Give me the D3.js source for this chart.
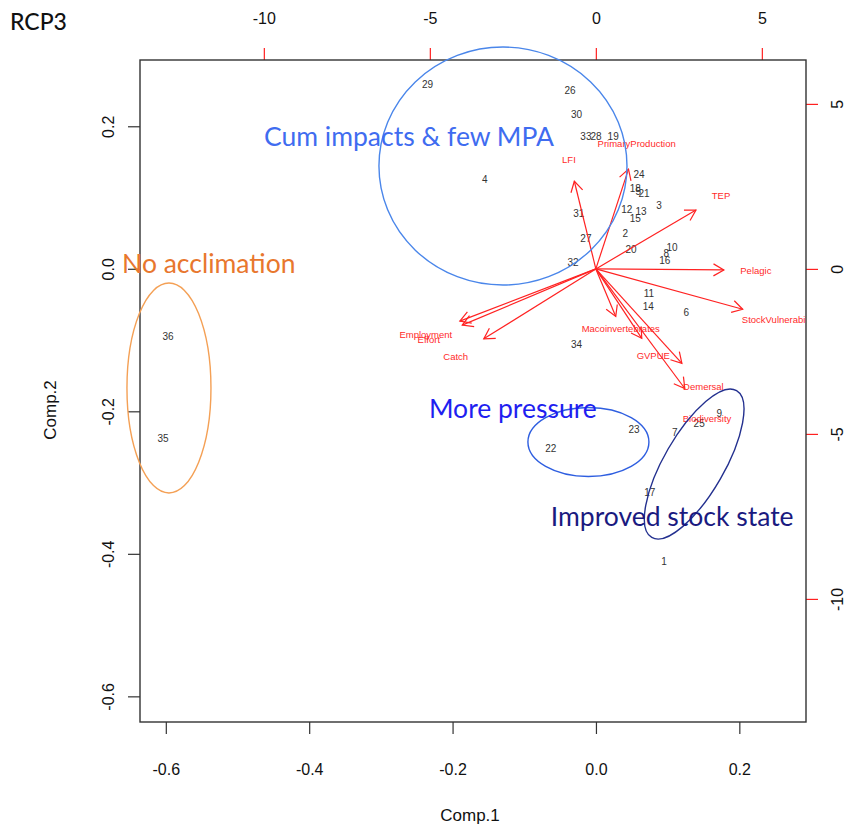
<!DOCTYPE html>
<html>
<head>
<meta charset="utf-8">
<script src="https://cdn.jsdelivr.net/npm/d3@7"></script>
<style>
  html, body { margin: 0; padding: 0; background: #fff; }
  svg { display: block; }
</style>
</head>
<body>
<svg id="chart" width="856" height="830"></svg>
<script>
// ---------- data ----------
const pointLabels = ["1","2","3","4","5","6","7","8","9","10","11","12","13","14","15","16","17","18",
  "19","20","21","22","23","24","25","26","27","28","29","30","31","32","33","34","35","36"];
const comp1 = [0.095, 0.041, 0.088, -0.155, 0.059, 0.126, 0.110, 0.098, 0.172, 0.106, 0.074, 0.043,
  0.063, 0.073, 0.055, 0.096, 0.075, 0.055, 0.024, 0.049, 0.067, -0.063, 0.053, 0.060, 0.144,
  -0.036, -0.014, 0.000, -0.235, -0.027, -0.024, -0.032, -0.014, -0.027, -0.604, -0.597];
const comp2 = [-0.411, 0.049, 0.089, 0.125, 0.109, -0.061, -0.230, 0.022, -0.203, 0.030, -0.034, 0.083,
  0.081, -0.053, 0.070, 0.012, -0.314, 0.113, 0.185, 0.027, 0.106, -0.252, -0.226, 0.133, -0.217,
  0.250, 0.043, 0.186, 0.258, 0.216, 0.078, 0.009, 0.186, -0.106, -0.238, -0.095];

const varLabels = ["LFI","PrimaryProduction","TEP","Pelagic","StockVulnerability","Macoinvertebrates",
  "GVPUE","Demersal","Biodiversity","Employment","Effort","Catch"];
const load1 = [-0.81, 1.23, 3.77, 4.82, 5.53, 0.75, 1.73, 3.24, 3.35, -5.12, -5.03, -4.22];
const load2 = [3.32, 3.78, 2.23, -0.04, -1.53, -1.80, -2.63, -3.58, -4.53, -1.98, -2.13, -2.65];

const bottomTicks = [-0.6, -0.4, -0.2, 0.0, 0.2];
const leftTicks = [-0.6, -0.4, -0.2, 0.0, 0.2];
const topTicks = [-10, -5, 0, 5];
const rightTicks = [-10, -5, 0, 5];

const groupNames = ["Cum impacts & few MPA", "No acclimation", "More pressure", "Improved stock state"];
const groupCx = [-0.1297, -0.5956, -0.0105, 0.137];
const groupCy = [0.1442, -0.1673, -0.243, -0.274];
const groupRx = [0.173, 0.0586, 0.0844, 0.042];
const groupRy = [0.167, 0.1473, 0.0484, 0.119];
const groupRot = [0, 0, 0, 30];
const groupStroke = ["#4a86ea", "#f4a055", "#2e5ee0", "#23308f"];
const groupTextColor = ["#3f6cf0", "#e8772e", "#1f1ff0", "#1a1a80"];
const groupTextX = [-0.463, -0.661, -0.233, -0.063];
const groupTextY = [0.172, -0.006, -0.21, -0.361];

// ---------- layout ----------
const svg = d3.select("#chart");
const box = {l: 140, r: 806, t: 60, b: 722};
const lim = [-0.636, 0.293];
const lim2 = [-13.73, 6.33];
const x = d3.scaleLinear().domain(lim).range([box.l, box.r]);
const y = d3.scaleLinear().domain(lim).range([box.b, box.t]);
const x2 = d3.scaleLinear().domain(lim2).range([box.l, box.r]);
const y2 = d3.scaleLinear().domain(lim2).range([box.b, box.t]);

const axisFont = "'Liberation Sans', Arial, Helvetica, sans-serif";
const annFont = "Lato, 'Open Sans', sans-serif";
const hy = f => (d => f(d).replace("\u2212", "-"));
const f1 = hy(d3.format(".1f"));
const f0 = hy(d3.format("d"));

svg.append("defs").append("clipPath").attr("id", "plotclip")
  .append("rect").attr("x", box.l).attr("y", box.t)
  .attr("width", box.r - box.l).attr("height", box.b - box.t);

// axes
const gB = svg.append("g").attr("transform", `translate(0,${box.b})`)
  .call(d3.axisBottom(x).tickValues(bottomTicks).tickFormat(f1).tickSize(12).tickPadding(30));
const gL = svg.append("g").attr("transform", `translate(${box.l},0)`)
  .call(d3.axisLeft(y).tickValues(leftTicks).tickFormat(f1).tickSize(12).tickPadding(20));
const gT = svg.append("g").attr("transform", `translate(0,${box.t})`)
  .call(d3.axisTop(x2).tickValues(topTicks).tickFormat(f0).tickSize(12).tickPadding(24));
const gR = svg.append("g").attr("transform", `translate(${box.r},0)`)
  .call(d3.axisRight(y2).tickValues(rightTicks).tickFormat(f0).tickSize(12).tickPadding(20));

[gB, gL, gT, gR].forEach(g => {
  g.select(".domain").remove();
  g.selectAll("text").attr("font-family", axisFont).attr("font-size", 16).attr("fill", "#111");
});
gB.selectAll(".tick line").attr("stroke", "#333").attr("stroke-width", 1.2);
gL.selectAll(".tick line").attr("stroke", "#333").attr("stroke-width", 1.2);
gT.selectAll(".tick line").attr("stroke", "#ff2020").attr("stroke-width", 1.2);
gR.selectAll(".tick line").attr("stroke", "#ff2020").attr("stroke-width", 1.2);
gL.selectAll(".tick text").attr("transform", "rotate(-90,-32,0)")
  .attr("x", -32).attr("dy", "0.35em").attr("text-anchor", "middle");
gR.selectAll(".tick text").attr("transform", "rotate(-90,31,0)")
  .attr("x", 31).attr("dy", "0.35em").attr("text-anchor", "middle");

// frame
svg.append("rect").attr("x", box.l).attr("y", box.t)
  .attr("width", box.r - box.l).attr("height", box.b - box.t)
  .attr("fill", "none").attr("stroke", "#333").attr("stroke-width", 1.4);

// axis titles
svg.append("text").attr("x", 470).attr("y", 821).attr("text-anchor", "middle")
  .attr("font-family", axisFont).attr("font-size", 17).attr("fill", "#111").text("Comp.1");
svg.append("text").attr("transform", "translate(56,410) rotate(-90)").attr("text-anchor", "middle")
  .attr("font-family", axisFont).attr("font-size", 17).attr("fill", "#111").text("Comp.2");
svg.append("text").attr("x", 10).attr("y", 30)
  .attr("font-family", annFont).attr("font-size", 23).attr("font-weight", 500).attr("fill", "#111").text("RCP3");

// ---------- plot contents (clipped) ----------
const plot = svg.append("g").attr("clip-path", "url(#plotclip)");

const pts = pointLabels.map((lab, i) => ({lab, a: comp1[i], b: comp2[i]}));
plot.selectAll("text.pt").data(pts).enter().append("text").attr("class", "pt")
  .attr("x", d => x(d.a)).attr("y", d => y(d.b)).attr("dy", "0.35em")
  .attr("text-anchor", "middle").attr("font-family", axisFont).attr("font-size", 10)
  .attr("fill", "#333").text(d => d.lab);

const vars = varLabels.map((lab, i) => ({lab, u: load1[i], w: load2[i]}));
const ox = x2(0), oy = y2(0);
const arrowG = plot.append("g").attr("stroke", "#ff2222").attr("stroke-width", 1.2).attr("fill", "none");
vars.forEach(v => {
  const tx = x2(v.u * 0.8), ty = y2(v.w * 0.8);
  arrowG.append("line").attr("x1", ox).attr("y1", oy).attr("x2", tx).attr("y2", ty);
  const ang = Math.atan2(ty - oy, tx - ox);
  const len = 12, spread = Math.PI / 6;
  const p1 = [tx - len * Math.cos(ang - spread), ty - len * Math.sin(ang - spread)];
  const p2 = [tx - len * Math.cos(ang + spread), ty - len * Math.sin(ang + spread)];
  arrowG.append("polyline").attr("points", [p1, [tx, ty], p2].map(p => p.join(",")).join(" "));
});
plot.selectAll("text.var").data(vars).enter().append("text").attr("class", "var")
  .attr("x", d => x2(d.u)).attr("y", d => y2(d.w)).attr("dy", "0.35em")
  .attr("text-anchor", "middle").attr("font-family", axisFont).attr("font-size", 9.5)
  .attr("fill", "#ff2a2a").text(d => d.lab);

// ---------- annotations ----------
const ann = groupNames.map((n, i) => ({n, cx: groupCx[i], cy: groupCy[i], rx: groupRx[i], ry: groupRy[i],
  rot: groupRot[i], stroke: groupStroke[i], tc: groupTextColor[i], tx: groupTextX[i], ty: groupTextY[i]}));
svg.selectAll("ellipse.grp").data(ann).enter().append("ellipse").attr("class", "grp")
  .attr("cx", d => x(d.cx)).attr("cy", d => y(d.cy))
  .attr("rx", d => x(d.cx + d.rx) - x(d.cx)).attr("ry", d => y(d.cy) - y(d.cy + d.ry))
  .attr("transform", d => `rotate(${d.rot},${x(d.cx)},${y(d.cy)})`)
  .attr("fill", "none").attr("stroke", d => d.stroke).attr("stroke-width", 1.4);
svg.selectAll("text.grp").data(ann).enter().append("text").attr("class", "grp")
  .attr("x", d => x(d.tx)).attr("y", d => y(d.ty))
  .attr("font-family", annFont).attr("font-size", 26.5).attr("fill", d => d.tc).text(d => d.n);
</script>
</body>
</html>
